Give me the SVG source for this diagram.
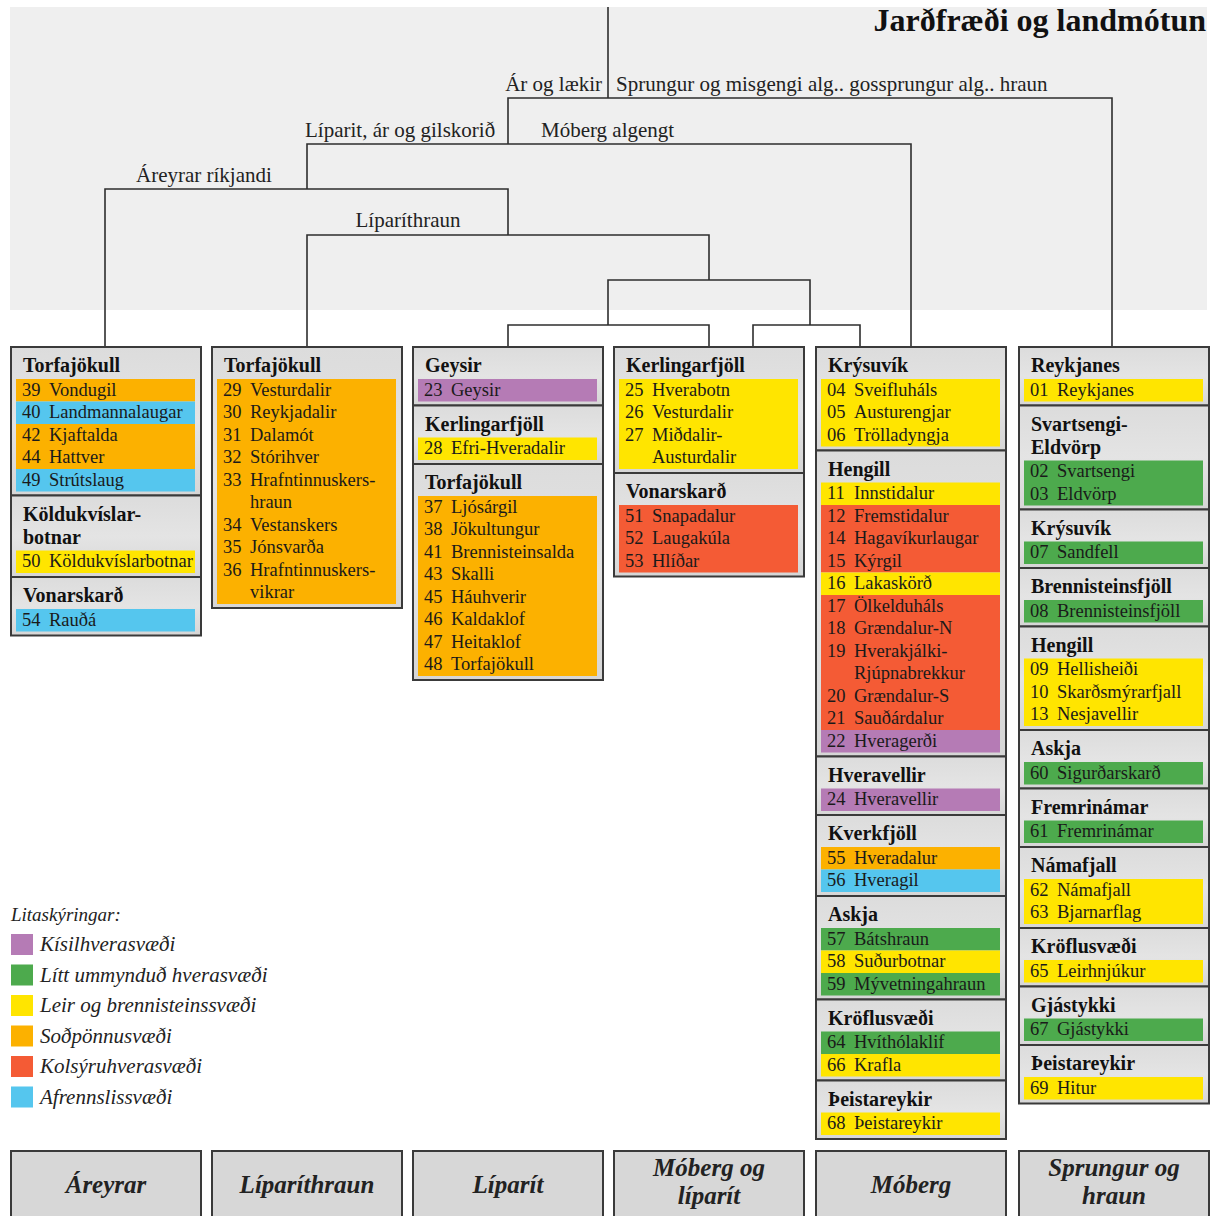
<svg xmlns="http://www.w3.org/2000/svg" width="1220" height="1216" viewBox="0 0 1220 1216">
<defs>
<linearGradient id="gb" x1="0" y1="0" x2="0" y2="1">
<stop offset="0" stop-color="#dcdcdc"/><stop offset="0.5" stop-color="#e4e4e4"/><stop offset="1" stop-color="#d6d6d6"/>
</linearGradient>
</defs>
<style>
.bg{fill:#efefef}
.box{fill:url(#gb);stroke:#3a3a3a;stroke-width:2}
.bb{fill:#d7d7d7;stroke:#3a3a3a;stroke-width:2}
.hd{font-family:"Liberation Serif","Times New Roman",serif;font-weight:bold;font-size:20px;fill:#111}
.it{font-family:"Liberation Serif","Times New Roman",serif;font-size:18.5px;fill:#1a1a1a}
.lb{font-family:"Liberation Serif","Times New Roman",serif;font-size:21px;fill:#222}
.ttl{font-family:"Liberation Serif","Times New Roman",serif;font-weight:bold;font-size:32px;fill:#111}
.lg{font-family:"Liberation Serif","Times New Roman",serif;font-style:italic;font-size:21px;fill:#222}
.bt{font-family:"Liberation Serif","Times New Roman",serif;font-style:italic;font-weight:bold;font-size:25px;fill:#222;text-anchor:middle}
.or{fill:#fcb100}.bl{fill:#55c6ee}.ye{fill:#ffe500}.rd{fill:#f45b35}.pu{fill:#b57bb5}.gr{fill:#4daa4d}
.cn{fill:none;stroke:#2e2e2e;stroke-width:1.6}
</style>
<rect class="bg" x="10" y="7" width="1197" height="303"/>
<text class="ttl" x="1206" y="31" text-anchor="end">Jarðfræði og landmótun</text>
<g id="connectors">
<path class="cn" d="M608 7V98M508 144V98H1112V347M307 189V144H911V347M105 347V189H508V235M307 347V235H709V280M608 325V280H810V325M508 347V325H709V347M753 347V325H860V347"/>
<text class="lb" x="602" y="91" text-anchor="end">Ár og lækir</text>
<text class="lb" x="616" y="91">Sprungur og misgengi alg.. gossprungur alg.. hraun</text>
<text class="lb" x="305" y="137">Líparit, ár og gilskorið</text>
<text class="lb" x="541" y="137">Móberg algengt</text>
<text class="lb" x="136" y="182">Áreyrar ríkjandi</text>
<text class="lb" x="408" y="227" text-anchor="middle">Líparíthraun</text>
</g>
<!-- Column 1 -->
<g id="c1-torfajokull" transform="translate(11,347)">
<rect class="box" width="190" height="148.5"/>
<text class="hd" x="12" y="25">Torfajökull</text>
<rect class="or" x="5" y="32" width="179" height="22.5"/><rect class="bl" x="5" y="54.5" width="179" height="22.5"/><rect class="or" x="5" y="77" width="179" height="45"/><rect class="bl" x="5" y="122" width="179" height="22.5"/>
<text class="it" y="48.5"><tspan x="11">39</tspan><tspan x="38">Vondugil</tspan></text>
<text class="it" y="71"><tspan x="11">40</tspan><tspan x="38">Landmannalaugar</tspan></text>
<text class="it" y="93.5"><tspan x="11">42</tspan><tspan x="38">Kjaftalda</tspan></text>
<text class="it" y="116"><tspan x="11">44</tspan><tspan x="38">Hattver</tspan></text>
<text class="it" y="138.5"><tspan x="11">49</tspan><tspan x="38">Strútslaug</tspan></text>
</g>
<g id="c1-koldukvislarbotnar" transform="translate(11,495.5)">
<rect class="box" width="190" height="81.5"/>
<text class="hd" x="12" y="25">Köldukvíslar-</text><text class="hd" x="12" y="48">botnar</text>
<rect class="ye" x="5" y="55" width="179" height="22.5"/>
<text class="it" y="71.5"><tspan x="11">50</tspan><tspan x="38">Köldukvíslarbotnar</tspan></text>
</g>
<g id="c1-vonarskard" transform="translate(11,577)">
<rect class="box" width="190" height="58.5"/>
<text class="hd" x="12" y="25">Vonarskarð</text>
<rect class="bl" x="5" y="32" width="179" height="22.5"/>
<text class="it" y="48.5"><tspan x="11">54</tspan><tspan x="38">Rauðá</tspan></text>
</g>
<!-- Column 2 -->
<g id="c2-torfajokull" transform="translate(212,347)">
<rect class="box" width="190" height="261"/>
<text class="hd" x="12" y="25">Torfajökull</text>
<rect class="or" x="5" y="32" width="179" height="225"/>
<text class="it" y="48.5"><tspan x="11">29</tspan><tspan x="38">Vesturdalir</tspan></text>
<text class="it" y="71"><tspan x="11">30</tspan><tspan x="38">Reykjadalir</tspan></text>
<text class="it" y="93.5"><tspan x="11">31</tspan><tspan x="38">Dalamót</tspan></text>
<text class="it" y="116"><tspan x="11">32</tspan><tspan x="38">Stórihver</tspan></text>
<text class="it" y="138.5"><tspan x="11">33</tspan><tspan x="38">Hrafntinnuskers-</tspan></text>
<text class="it" x="38" y="161">hraun</text>
<text class="it" y="183.5"><tspan x="11">34</tspan><tspan x="38">Vestanskers</tspan></text>
<text class="it" y="206"><tspan x="11">35</tspan><tspan x="38">Jónsvarða</tspan></text>
<text class="it" y="228.5"><tspan x="11">36</tspan><tspan x="38">Hrafntinnuskers-</tspan></text>
<text class="it" x="38" y="251">vikrar</text>
</g>
<!-- Column 3 -->
<g id="c3-geysir" transform="translate(413,347)">
<rect class="box" width="190" height="58.5"/>
<text class="hd" x="12" y="25">Geysir</text>
<rect class="pu" x="5" y="32" width="179" height="22.5"/>
<text class="it" y="48.5"><tspan x="11">23</tspan><tspan x="38">Geysir</tspan></text>
</g>
<g id="c3-kerlingarfjoll" transform="translate(413,405.5)">
<rect class="box" width="190" height="58.5"/>
<text class="hd" x="12" y="25">Kerlingarfjöll</text>
<rect class="ye" x="5" y="32" width="179" height="22.5"/>
<text class="it" y="48.5"><tspan x="11">28</tspan><tspan x="38">Efri-Hveradalir</tspan></text>
</g>
<g id="c3-torfajokull" transform="translate(413,464)">
<rect class="box" width="190" height="216"/>
<text class="hd" x="12" y="25">Torfajökull</text>
<rect class="or" x="5" y="32" width="179" height="180"/>
<text class="it" y="48.5"><tspan x="11">37</tspan><tspan x="38">Ljósárgil</tspan></text>
<text class="it" y="71"><tspan x="11">38</tspan><tspan x="38">Jökultungur</tspan></text>
<text class="it" y="93.5"><tspan x="11">41</tspan><tspan x="38">Brennisteinsalda</tspan></text>
<text class="it" y="116"><tspan x="11">43</tspan><tspan x="38">Skalli</tspan></text>
<text class="it" y="138.5"><tspan x="11">45</tspan><tspan x="38">Háuhverir</tspan></text>
<text class="it" y="161"><tspan x="11">46</tspan><tspan x="38">Kaldaklof</tspan></text>
<text class="it" y="183.5"><tspan x="11">47</tspan><tspan x="38">Heitaklof</tspan></text>
<text class="it" y="206"><tspan x="11">48</tspan><tspan x="38">Torfajökull</tspan></text>
</g>
<!-- Column 4 -->
<g id="c4-kerlingarfjoll" transform="translate(614,347)">
<rect class="box" width="190" height="126"/>
<text class="hd" x="12" y="25">Kerlingarfjöll</text>
<rect class="ye" x="5" y="32" width="179" height="90"/>
<text class="it" y="48.5"><tspan x="11">25</tspan><tspan x="38">Hverabotn</tspan></text>
<text class="it" y="71"><tspan x="11">26</tspan><tspan x="38">Vesturdalir</tspan></text>
<text class="it" y="93.5"><tspan x="11">27</tspan><tspan x="38">Miðdalir-</tspan></text>
<text class="it" x="38" y="116">Austurdalir</text>
</g>
<g id="c4-vonarskard" transform="translate(614,473)">
<rect class="box" width="190" height="103.5"/>
<text class="hd" x="12" y="25">Vonarskarð</text>
<rect class="rd" x="5" y="32" width="179" height="67.5"/>
<text class="it" y="48.5"><tspan x="11">51</tspan><tspan x="38">Snapadalur</tspan></text>
<text class="it" y="71"><tspan x="11">52</tspan><tspan x="38">Laugakúla</tspan></text>
<text class="it" y="93.5"><tspan x="11">53</tspan><tspan x="38">Hlíðar</tspan></text>
</g>
<!-- Column 5 -->
<g id="c5-krysuvik" transform="translate(816,347)">
<rect class="box" width="190" height="103.5"/>
<text class="hd" x="12" y="25">Krýsuvík</text>
<rect class="ye" x="5" y="32" width="179" height="67.5"/>
<text class="it" y="48.5"><tspan x="11">04</tspan><tspan x="38">Sveifluháls</tspan></text>
<text class="it" y="71"><tspan x="11">05</tspan><tspan x="38">Austurengjar</tspan></text>
<text class="it" y="93.5"><tspan x="11">06</tspan><tspan x="38">Trölladyngja</tspan></text>
</g>
<g id="c5-hengill" transform="translate(816,450.5)">
<rect class="box" width="190" height="306"/>
<text class="hd" x="12" y="25">Hengill</text>
<rect class="ye" x="5" y="32" width="179" height="22.5"/><rect class="rd" x="5" y="54.5" width="179" height="67.5"/><rect class="ye" x="5" y="122" width="179" height="22.5"/><rect class="rd" x="5" y="144.5" width="179" height="135"/><rect class="pu" x="5" y="279.5" width="179" height="22.5"/>
<text class="it" y="48.5"><tspan x="11">11</tspan><tspan x="38">Innstidalur</tspan></text>
<text class="it" y="71"><tspan x="11">12</tspan><tspan x="38">Fremstidalur</tspan></text>
<text class="it" y="93.5"><tspan x="11">14</tspan><tspan x="38">Hagavíkurlaugar</tspan></text>
<text class="it" y="116"><tspan x="11">15</tspan><tspan x="38">Kýrgil</tspan></text>
<text class="it" y="138.5"><tspan x="11">16</tspan><tspan x="38">Lakaskörð</tspan></text>
<text class="it" y="161"><tspan x="11">17</tspan><tspan x="38">Ölkelduháls</tspan></text>
<text class="it" y="183.5"><tspan x="11">18</tspan><tspan x="38">Grændalur-N</tspan></text>
<text class="it" y="206"><tspan x="11">19</tspan><tspan x="38">Hverakjálki-</tspan></text>
<text class="it" x="38" y="228.5">Rjúpnabrekkur</text>
<text class="it" y="251"><tspan x="11">20</tspan><tspan x="38">Grændalur-S</tspan></text>
<text class="it" y="273.5"><tspan x="11">21</tspan><tspan x="38">Sauðárdalur</tspan></text>
<text class="it" y="296"><tspan x="11">22</tspan><tspan x="38">Hveragerði</tspan></text>
</g>
<g id="c5-hveravellir" transform="translate(816,756.5)">
<rect class="box" width="190" height="58.5"/>
<text class="hd" x="12" y="25">Hveravellir</text>
<rect class="pu" x="5" y="32" width="179" height="22.5"/>
<text class="it" y="48.5"><tspan x="11">24</tspan><tspan x="38">Hveravellir</tspan></text>
</g>
<g id="c5-kverkfjoll" transform="translate(816,815)">
<rect class="box" width="190" height="81"/>
<text class="hd" x="12" y="25">Kverkfjöll</text>
<rect class="or" x="5" y="32" width="179" height="22.5"/><rect class="bl" x="5" y="54.5" width="179" height="22.5"/>
<text class="it" y="48.5"><tspan x="11">55</tspan><tspan x="38">Hveradalur</tspan></text>
<text class="it" y="71"><tspan x="11">56</tspan><tspan x="38">Hveragil</tspan></text>
</g>
<g id="c5-askja" transform="translate(816,896)">
<rect class="box" width="190" height="103.5"/>
<text class="hd" x="12" y="25">Askja</text>
<rect class="gr" x="5" y="32" width="179" height="22.5"/><rect class="ye" x="5" y="54.5" width="179" height="22.5"/><rect class="gr" x="5" y="77" width="179" height="22.5"/>
<text class="it" y="48.5"><tspan x="11">57</tspan><tspan x="38">Bátshraun</tspan></text>
<text class="it" y="71"><tspan x="11">58</tspan><tspan x="38">Suðurbotnar</tspan></text>
<text class="it" y="93.5"><tspan x="11">59</tspan><tspan x="38">Mývetningahraun</tspan></text>
</g>
<g id="c5-kroflusvaedi" transform="translate(816,999.5)">
<rect class="box" width="190" height="81"/>
<text class="hd" x="12" y="25">Kröflusvæði</text>
<rect class="gr" x="5" y="32" width="179" height="22.5"/><rect class="ye" x="5" y="54.5" width="179" height="22.5"/>
<text class="it" y="48.5"><tspan x="11">64</tspan><tspan x="38">Hvíthólaklif</tspan></text>
<text class="it" y="71"><tspan x="11">66</tspan><tspan x="38">Krafla</tspan></text>
</g>
<g id="c5-theistareykir" transform="translate(816,1080.5)">
<rect class="box" width="190" height="58.5"/>
<text class="hd" x="12" y="25">Þeistareykir</text>
<rect class="ye" x="5" y="32" width="179" height="22.5"/>
<text class="it" y="48.5"><tspan x="11">68</tspan><tspan x="38">Þeistareykir</tspan></text>
</g>
<!-- Column 6 -->
<g id="c6-reykjanes" transform="translate(1019,347)">
<rect class="box" width="190" height="58.5"/>
<text class="hd" x="12" y="25">Reykjanes</text>
<rect class="ye" x="5" y="32" width="179" height="22.5"/>
<text class="it" y="48.5"><tspan x="11">01</tspan><tspan x="38">Reykjanes</tspan></text>
</g>
<g id="c6-svartsengi" transform="translate(1019,405.5)">
<rect class="box" width="190" height="104"/>
<text class="hd" x="12" y="25">Svartsengi-</text><text class="hd" x="12" y="48">Eldvörp</text>
<rect class="gr" x="5" y="55" width="179" height="45"/>
<text class="it" y="71.5"><tspan x="11">02</tspan><tspan x="38">Svartsengi</tspan></text>
<text class="it" y="94"><tspan x="11">03</tspan><tspan x="38">Eldvörp</tspan></text>
</g>
<g id="c6-krysuvik" transform="translate(1019,509.5)">
<rect class="box" width="190" height="58.5"/>
<text class="hd" x="12" y="25">Krýsuvík</text>
<rect class="gr" x="5" y="32" width="179" height="22.5"/>
<text class="it" y="48.5"><tspan x="11">07</tspan><tspan x="38">Sandfell</tspan></text>
</g>
<g id="c6-brennisteinsfjoll" transform="translate(1019,568)">
<rect class="box" width="190" height="58.5"/>
<text class="hd" x="12" y="25">Brennisteinsfjöll</text>
<rect class="gr" x="5" y="32" width="179" height="22.5"/>
<text class="it" y="48.5"><tspan x="11">08</tspan><tspan x="38">Brennisteinsfjöll</tspan></text>
</g>
<g id="c6-hengill" transform="translate(1019,626.5)">
<rect class="box" width="190" height="103.5"/>
<text class="hd" x="12" y="25">Hengill</text>
<rect class="ye" x="5" y="32" width="179" height="67.5"/>
<text class="it" y="48.5"><tspan x="11">09</tspan><tspan x="38">Hellisheiði</tspan></text>
<text class="it" y="71"><tspan x="11">10</tspan><tspan x="38">Skarðsmýrarfjall</tspan></text>
<text class="it" y="93.5"><tspan x="11">13</tspan><tspan x="38">Nesjavellir</tspan></text>
</g>
<g id="c6-askja" transform="translate(1019,730)">
<rect class="box" width="190" height="58.5"/>
<text class="hd" x="12" y="25">Askja</text>
<rect class="gr" x="5" y="32" width="179" height="22.5"/>
<text class="it" y="48.5"><tspan x="11">60</tspan><tspan x="38">Sigurðarskarð</tspan></text>
</g>
<g id="c6-fremrinamar" transform="translate(1019,788.5)">
<rect class="box" width="190" height="58.5"/>
<text class="hd" x="12" y="25">Fremrinámar</text>
<rect class="gr" x="5" y="32" width="179" height="22.5"/>
<text class="it" y="48.5"><tspan x="11">61</tspan><tspan x="38">Fremrinámar</tspan></text>
</g>
<g id="c6-namafjall" transform="translate(1019,847)">
<rect class="box" width="190" height="81"/>
<text class="hd" x="12" y="25">Námafjall</text>
<rect class="ye" x="5" y="32" width="179" height="45"/>
<text class="it" y="48.5"><tspan x="11">62</tspan><tspan x="38">Námafjall</tspan></text>
<text class="it" y="71"><tspan x="11">63</tspan><tspan x="38">Bjarnarflag</tspan></text>
</g>
<g id="c6-kroflusvaedi" transform="translate(1019,928)">
<rect class="box" width="190" height="58.5"/>
<text class="hd" x="12" y="25">Kröflusvæði</text>
<rect class="ye" x="5" y="32" width="179" height="22.5"/>
<text class="it" y="48.5"><tspan x="11">65</tspan><tspan x="38">Leirhnjúkur</tspan></text>
</g>
<g id="c6-gjastykki" transform="translate(1019,986.5)">
<rect class="box" width="190" height="58.5"/>
<text class="hd" x="12" y="25">Gjástykki</text>
<rect class="gr" x="5" y="32" width="179" height="22.5"/>
<text class="it" y="48.5"><tspan x="11">67</tspan><tspan x="38">Gjástykki</tspan></text>
</g>
<g id="c6-theistareykir" transform="translate(1019,1045)">
<rect class="box" width="190" height="58.5"/>
<text class="hd" x="12" y="25">Þeistareykir</text>
<rect class="ye" x="5" y="32" width="179" height="22.5"/>
<text class="it" y="48.5"><tspan x="11">69</tspan><tspan x="38">Hitur</tspan></text>
</g>
<!-- Legend -->
<g id="legend">
<text class="lg" x="11" y="921" style="font-size:19px">Litaskýringar:</text>
<rect class="pu" x="11" y="934" width="22" height="21"/><text class="lg" x="40" y="951">Kísilhverasvæði</text>
<rect class="gr" x="11" y="964.5" width="22" height="21"/><text class="lg" x="40" y="981.5">Lítt ummynduð hverasvæði</text>
<rect class="ye" x="11" y="995" width="22" height="21"/><text class="lg" x="40" y="1012">Leir og brennisteinssvæði</text>
<rect class="or" x="11" y="1025.5" width="22" height="21"/><text class="lg" x="40" y="1042.5">Soðpönnusvæði</text>
<rect class="rd" x="11" y="1056" width="22" height="21"/><text class="lg" x="40" y="1073">Kolsýruhverasvæði</text>
<rect class="bl" x="11" y="1086.5" width="22" height="21"/><text class="lg" x="40" y="1103.5">Afrennslissvæði</text>
</g>
<!-- Bottom category boxes -->
<g id="cat-areyrar"><rect class="bb" x="11" y="1151" width="190" height="75"/><text class="bt" x="106" y="1193">Áreyrar</text></g>
<g id="cat-liparithraun"><rect class="bb" x="212" y="1151" width="190" height="75"/><text class="bt" x="307" y="1193">Líparíthraun</text></g>
<g id="cat-liparit"><rect class="bb" x="413" y="1151" width="190" height="75"/><text class="bt" x="508" y="1193">Líparít</text></g>
<g id="cat-moberg-liparit"><rect class="bb" x="614" y="1151" width="190" height="75"/><text class="bt" x="709" y="1176">Móberg og</text><text class="bt" x="709" y="1204">líparít</text></g>
<g id="cat-moberg"><rect class="bb" x="816" y="1151" width="190" height="75"/><text class="bt" x="911" y="1193">Móberg</text></g>
<g id="cat-sprungur"><rect class="bb" x="1019" y="1151" width="190" height="75"/><text class="bt" x="1114" y="1176">Sprungur og</text><text class="bt" x="1114" y="1204">hraun</text></g>
</svg>
